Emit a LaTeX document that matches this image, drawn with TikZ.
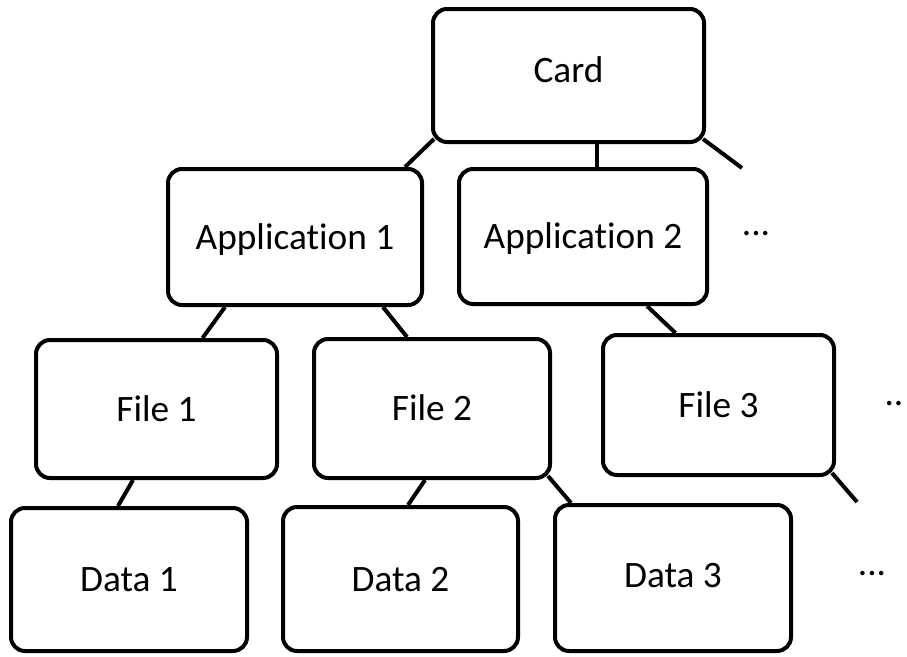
\documentclass[tikz,border=0pt]{standalone}
\usepackage{fontspec}
\setmainfont[Ligatures=NoCommon]{Carlito}
\begin{document}
\begin{tikzpicture}[x=1pt,y=-1pt,
  box/.style={draw=black, line width=4pt, rounded corners=14pt, inner sep=0pt,
    font=\fontsize{37.3}{44}\selectfont, text height=24pt, text depth=0pt, fill=white},
  link/.style={draw=black, line width=4pt},
  dotstext/.style={inner sep=0pt, anchor=base, font=\fontsize{37.3}{44}\selectfont}]
\useasboundingbox (0,0) rectangle (907,656);
\clip (0,0) rectangle (907,656);
\fill[white] (0,0) rectangle (907,656);
% nodes
\node[box, minimum width=271pt, minimum height=133pt, text depth=10pt] (card) at (568.5,75.5) {Card};
\node[box, minimum width=254pt, minimum height=136pt] (app1) at (295,237) {Application 1};
\node[box, minimum width=248pt, minimum height=135pt] (app2) at (583,236.5) {Application 2};
\node[box, minimum width=241pt, minimum height=138pt] (file1) at (156.5,409) {File 1};
\node[box, minimum width=236pt, minimum height=139pt] (file2) at (432,408.5) {File 2};
\node[box, minimum width=231pt, minimum height=140pt] (file3) at (718.5,405) {File 3};
\node[box, minimum width=236pt, minimum height=143pt] (data1) at (129,579.5) {Data 1};
\node[box, minimum width=235pt, minimum height=144pt] (data2) at (400.5,579) {Data 2};
\node[box, minimum width=236pt, minimum height=146pt, text depth=6pt] (data3) at (673,578) {Data 3};
% ellipses
\node[dotstext] (more1) at (756,235) {...};
\node[dotstext] (more2) at (894,405) {..};
\node[dotstext] (more3) at (872,575) {...};
% dangling ends
\coordinate (cardend) at (742,168);
\coordinate (file3end) at (857,502);
% connectors
\draw[link] ([xshift=3pt,yshift=5pt]card.south west) -- ([xshift=-19pt]app1.north east);
\draw[link] ([xshift=28.5pt]card.south) -- ([xshift=14pt]app2.north);
\draw[link] ([xshift=-3pt,yshift=5pt]card.south east) -- (cardend);
\draw[link] ([xshift=-70pt]app1.south) -- ([xshift=46pt]file1.north);
\draw[link] ([xshift=88pt]app1.south) -- ([xshift=-25pt]file2.north);
\draw[link] ([xshift=64pt]app2.south) -- ([xshift=-43pt]file3.north);
\draw[link] ([xshift=-23.5pt]file1.south) -- ([xshift=-11pt]data1.north);
\draw[link] ([xshift=-7pt]file2.south) -- ([xshift=7.5pt]data2.north);
\draw[link] ([xshift=-4pt,yshift=4pt]file2.south east) -- ([xshift=18pt]data3.north west);
\draw[link] ([xshift=-4pt,yshift=4pt]file3.south east) -- (file3end);
\end{tikzpicture}
\end{document}
